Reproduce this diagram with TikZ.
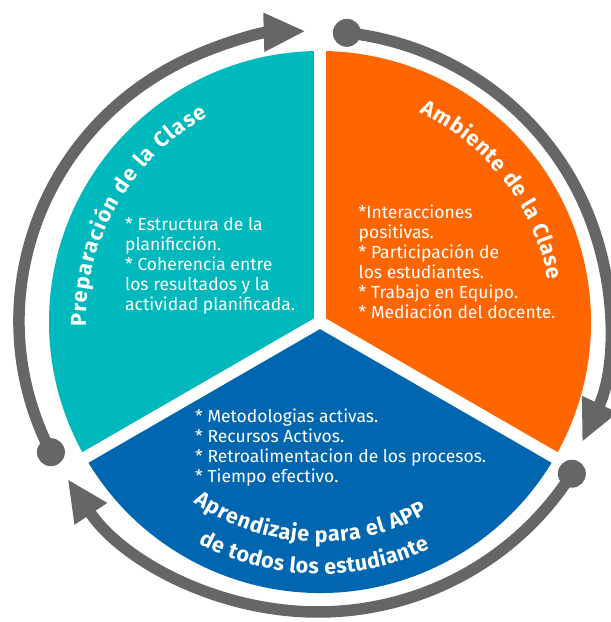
\documentclass[tikz,border=0pt]{standalone}
\usepackage{fontspec}
\setmainfont{Fira Sans}
\usetikzlibrary{decorations.text, arrows.meta}
\definecolor{cteal}{HTML}{00B9BC}
\definecolor{corange}{HTML}{FF6600}
\definecolor{cblue}{HTML}{0066B0}
\definecolor{cgray}{HTML}{666666}
\newcommand\ttlfont{\color{white}\fontsize{21.5}{24}\selectfont\bfseries}
\begin{document}
\begin{tikzpicture}[x=1pt,y=1pt,
  ring/.style={draw=cgray, line width=11.5pt},
  ringdot/.style={fill=cgray, circle, minimum size=28pt, inner sep=0pt},
  gapline/.style={draw=white, line width=12pt},
  body/.style={text=white, font=\fontsize{17.5}{20}\selectfont, align=left, inner sep=0pt, anchor=base west},
  arrowtip/.style={-{Triangle[length=42pt,width=36pt]}},
  curved/.style={shift={(c)}, decorate, decoration={text along path, text align={fit to path}, text={|\ttlfont|#1}}}
]
\useasboundingbox (0,0) rectangle (611,-622);
\coordinate (c) at (320,-322);
% pie sectors
\fill[cteal] (c) -- ++(90:271) arc[start angle=90, end angle=210, radius=271] -- cycle;
\fill[corange] (c) -- ++(-30:271) arc[start angle=-30, end angle=90, radius=271] -- cycle;
\fill[cblue] (c) -- ++(210:271) arc[start angle=210, end angle=330, radius=271] -- cycle;
\draw[gapline] (c) -- ++(90:285);
\draw[gapline] (c) -- ++(210:285);
\draw[gapline] (c) -- ++(330:285);
% outer ring arrows
\draw[ring, arrowtip, shift={(314,-321)}] (206.9:295 and 290) arc[start angle=206.9, end angle=91.6, x radius=295, y radius=290];
\path[shift={(314,-321)}] (206.9:295 and 290) node[ringdot] (d1) {};
\draw[ring, arrowtip, shift={(314,-321)}] (83.6:295 and 290) arc[start angle=83.6, end angle=-24.7, x radius=295, y radius=290];
\path[shift={(314,-321)}] (83.6:295 and 290) node[ringdot] (d2) {};
\draw[ring, arrowtip, shift={(318,-316)}] (-32.2:300 and 296) arc[start angle=-32.2, end angle=-146.6, x radius=300, y radius=296];
\path[shift={(318,-316)}] (-32.2:300 and 296) node[ringdot] (d3) {};
% titles
\path[curved={Preparación de la Clase}] (181.2:234) arc[start angle=181.2, end angle=118.6, radius=234];
\path[curved={Ambiente de la Clase}] (64.5:232) arc[start angle=64.5, end angle=10.4, radius=232];
\path[curved={Aprendizaje para el APP}] (-125:220) arc[start angle=-125, end angle=-60.6, radius=220];
\path[curved={de todos los estudiante}] (-118.7:252) arc[start angle=-118.7, end angle=-64.1, radius=252];
% body texts
\node[body] (t1) at (125,-310) {* Estructura de la\\planificción.\\* Coherencia entre\\los resultados y la\\actividad planificada.};
\node[body] (t2) at (358.5,-318) {*Interacciones\\positivas.\\* Participación de\\los estudiantes.\\* Trabajo en Equipo.\\* Mediación del docente.};
\node[body] (t3) at (195,-482) {* Metodologias activas.\\* Recursos Activos.\\* Retroalimentacion de los procesos.\\* Tiempo efectivo.};
\end{tikzpicture}
\end{document}
